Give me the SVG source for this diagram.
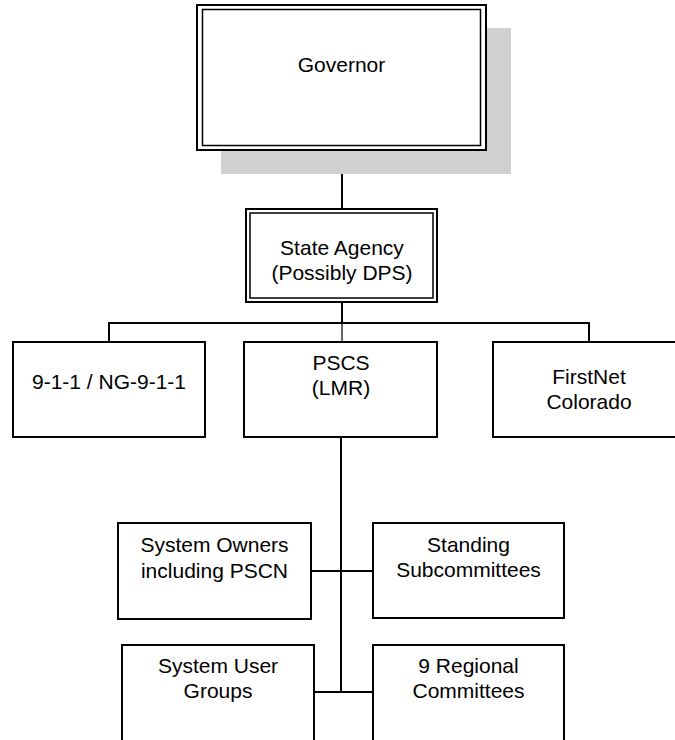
<svg xmlns="http://www.w3.org/2000/svg" width="675" height="740" viewBox="0 0 675 740">
<style>
.box{fill:#ffffff;stroke:#000000;stroke-width:2}
.inner{fill:none;stroke:#000000;stroke-width:1.5}
.ln{fill:none;stroke:#000000;stroke-width:2}
.thin{fill:none;stroke:#000000;stroke-width:1.2}
text{font-family:"Liberation Sans",Arial,sans-serif;font-size:21px;fill:#000000;text-anchor:middle}
</style>
<rect x="0" y="0" width="675" height="740" fill="#ffffff"/>
<g id="connectors">
<line class="ln" x1="342" y1="150" x2="342" y2="209"/>
<line class="ln" x1="342" y1="302" x2="342" y2="323"/>
<line class="ln" x1="108" y1="323" x2="590" y2="323"/>
<line class="ln" x1="109" y1="323" x2="109" y2="342"/>
<line class="thin" x1="342" y1="323" x2="342" y2="342"/>
<line class="ln" x1="589" y1="323" x2="589" y2="342"/>
<line class="ln" x1="341" y1="437" x2="341" y2="693"/>
<line class="ln" x1="311" y1="571" x2="373" y2="571"/>
<line class="ln" x1="314" y1="692" x2="373" y2="692"/>
</g>
<g id="governor">
<rect x="221" y="28" width="290" height="146" fill="#d0d0d0"/>
<rect class="box" x="197" y="5" width="289" height="145"/>
<rect class="inner" x="202.5" y="9.5" width="278" height="136"/>
<text x="341.5" y="72">Governor</text>
</g>
<g id="state-agency">
<rect class="box" x="246" y="209" width="191" height="93"/>
<rect class="inner" x="250" y="213" width="183" height="85"/>
<text x="342" y="255">State Agency</text>
<text x="342" y="280">(Possibly DPS)</text>
</g>
<g id="n911">
<rect class="box" x="13" y="342" width="192" height="95"/>
<text x="109" y="389">9-1-1 / NG-9-1-1</text>
</g>
<g id="pscs">
<rect class="box" x="244" y="342" width="193" height="95"/>
<text x="341" y="370">PSCS</text>
<text x="341" y="395">(LMR)</text>
</g>
<g id="firstnet">
<rect class="box" x="493" y="342" width="200" height="95"/>
<text x="589" y="384">FirstNet</text>
<text x="589" y="409">Colorado</text>
</g>
<g id="system-owners">
<rect class="box" x="118" y="523" width="193" height="96"/>
<text x="214.5" y="552">System Owners</text>
<text x="214.5" y="578">including PSCN</text>
</g>
<g id="standing">
<rect class="box" x="373" y="523" width="191" height="95"/>
<text x="468.5" y="552">Standing</text>
<text x="468.5" y="577">Subcommittees</text>
</g>
<g id="user-groups">
<rect class="box" x="122" y="645" width="192" height="110"/>
<text x="218" y="673">System User</text>
<text x="218" y="698">Groups</text>
</g>
<g id="regional">
<rect class="box" x="373" y="645" width="191" height="110"/>
<text x="468.5" y="673">9 Regional</text>
<text x="468.5" y="698">Committees</text>
</g>
</svg>
